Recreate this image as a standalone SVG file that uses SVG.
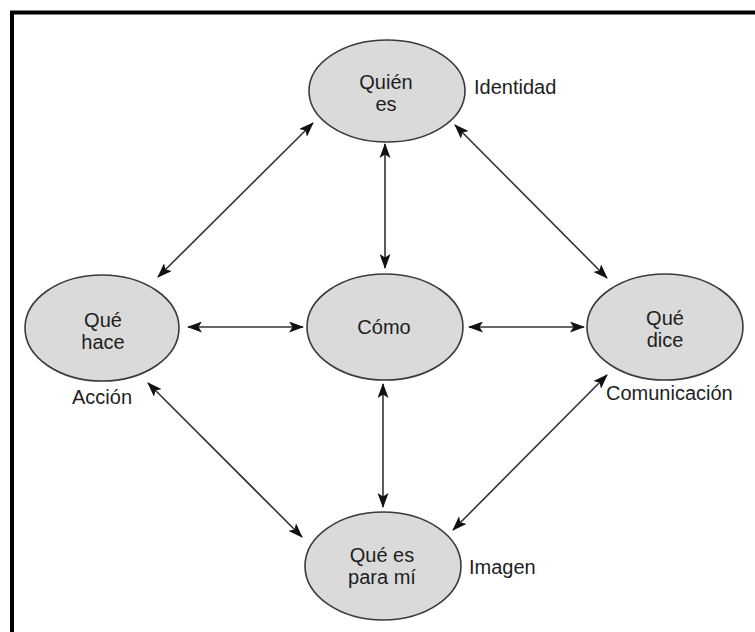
<svg xmlns="http://www.w3.org/2000/svg" width="755" height="632" viewBox="0 0 755 632">
<defs>
<style>
.node ellipse{fill:#dadada;stroke:#3a3a3a;stroke-width:1.6}
text{font-family:"Liberation Sans",Arial,Helvetica,sans-serif;font-size:20px;fill:#1e1e1e}
.c{text-anchor:middle}
.conn line{stroke:#333;stroke-width:1.6;fill:none;marker-start:url(#ah);marker-end:url(#ah)}
</style>
<marker id="ah" viewBox="0 0 15 11" refX="14" refY="5.5" markerWidth="15" markerHeight="11" markerUnits="userSpaceOnUse" orient="auto-start-reverse">
<path d="M0,0 L15,5.5 L0,11 L3.5,5.5 Z" fill="#111"/>
</marker>
</defs>
<rect width="755" height="632" fill="#fff"/>
<g id="frame" stroke="#000" stroke-width="4" fill="none">
<path d="M12,632 V12.5 H755"/>
</g>
<g id="connectors" class="conn">
<line x1="158" y1="277" x2="313" y2="123"/>
<line x1="455" y1="125" x2="607" y2="278"/>
<line x1="148" y1="383" x2="302" y2="537"/>
<line x1="607" y1="375" x2="453" y2="530"/>
<line x1="385" y1="144" x2="385" y2="268"/>
<line x1="383" y1="384" x2="383" y2="507"/>
<line x1="188" y1="327" x2="303" y2="327"/>
<line x1="469" y1="327" x2="584" y2="327"/>
</g>
<g id="quien" class="node">
<ellipse cx="387" cy="91" rx="78" ry="51"/>
<text class="c" x="386" y="89">Quién</text>
<text class="c" x="386" y="111">es</text>
</g>
<g id="que-hace" class="node">
<ellipse cx="102" cy="328" rx="77" ry="53"/>
<text class="c" x="103" y="327">Qué</text>
<text class="c" x="103" y="349">hace</text>
</g>
<g id="como" class="node">
<ellipse cx="385" cy="327" rx="78" ry="53"/>
<text class="c" x="384" y="334">Cómo</text>
</g>
<g id="que-dice" class="node">
<ellipse cx="665" cy="327" rx="78" ry="53"/>
<text class="c" x="665" y="325">Qué</text>
<text class="c" x="665" y="347">dice</text>
</g>
<g id="que-es-para-mi" class="node">
<ellipse cx="383" cy="566" rx="78" ry="54"/>
<text class="c" x="382" y="562">Qué es</text>
<text class="c" x="382" y="584">para mí</text>
</g>
<g id="labels">
<text x="474" y="94">Identidad</text>
<text x="72" y="404">Acción</text>
<text x="606" y="400">Comunicación</text>
<text x="469" y="574">Imagen</text>
</g>
</svg>
